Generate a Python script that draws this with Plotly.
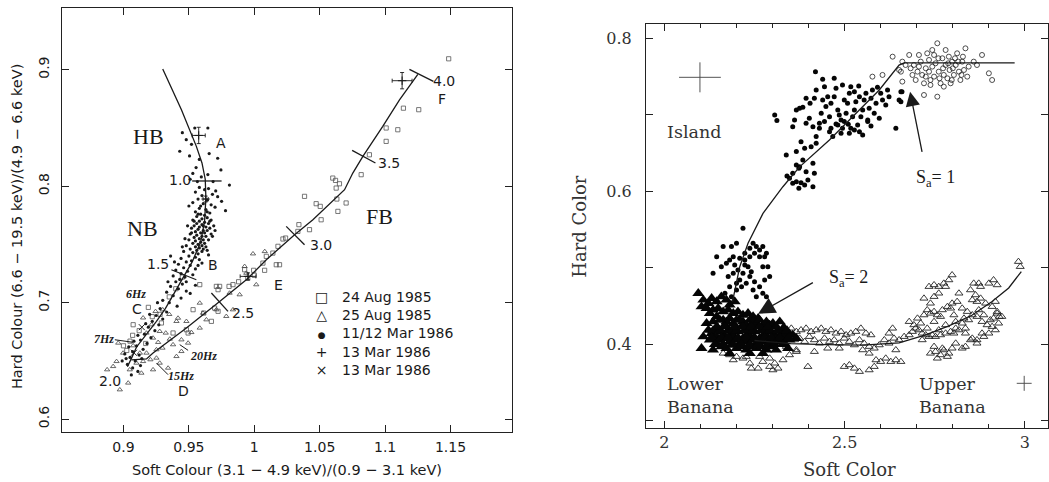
import plotly.graph_objects as go

# ================= LEFT PANEL DATA (soft colour, hard colour) =================
nb_curve = [(0.930, 0.9006), (0.9443, 0.8657), (0.9557, 0.8342), (0.9600, 0.820), (0.9625, 0.806),
            (0.9630, 0.790), (0.9620, 0.770), (0.9590, 0.752), (0.9525, 0.735), (0.9445, 0.719),
            (0.9380, 0.706), (0.9320, 0.695), (0.9252, 0.684), (0.9176, 0.673), (0.9100, 0.662),
            (0.9060, 0.652), (0.9030, 0.645)]
fb_curve = [(0.9061, 0.651), (0.9176, 0.6517), (0.9226, 0.6568), (0.9328, 0.6654), (0.9481, 0.6783),
            (0.9735, 0.7011), (0.9939, 0.7197), (1.0092, 0.7369), (1.0308, 0.7584), (1.0448, 0.7712),
            (1.0601, 0.787), (1.069, 0.797), (1.0753, 0.8113), (1.083, 0.8256), (1.0982, 0.8514),
            (1.111, 0.8742), (1.1250, 0.8960)]

# curve parameter ticks: (x0, y0, x1, y1)
curve_ticks = [(0.9525, 0.8045, 0.9750, 0.8045), (0.9366, 0.7283, 0.9557, 0.7197),
               (0.9672, 0.7083, 0.9799, 0.6926), (1.0244, 0.7655, 1.0384, 0.7498),
               (1.0748, 0.8308, 1.0926, 0.8199), (1.1186, 0.9003, 1.1369, 0.8900)]
# QPO leader lines
hz_leaders = [(0.8934, 0.6682, 0.9074, 0.6660), (0.9430, 0.6640, 0.9494, 0.6591),
              (0.9252, 0.6482, 0.9341, 0.6382)]

mar86_dots = [
    (0.945, 0.846), (0.948, 0.840), (0.952, 0.836), (0.9545, 0.850), (0.9645, 0.850), (0.943, 0.830),
    (0.9505, 0.826), (0.958, 0.823), (0.9655, 0.828), (0.9745, 0.814), (0.9555, 0.816), (0.953, 0.811),
    (0.972, 0.824), (0.981, 0.801), (0.9595, 0.808), (0.9645, 0.810), (0.9685, 0.804), (0.9565, 0.804),
    (0.951, 0.806), (0.9705, 0.796),
    (0.958, 0.799), (0.962, 0.797), (0.965, 0.798), (0.955, 0.795), (0.968, 0.793), (0.972, 0.791),
    (0.960, 0.792), (0.957, 0.789), (0.964, 0.788), (0.975, 0.787), (0.953, 0.786), (0.961, 0.785),
    (0.967, 0.784), (0.970, 0.782), (0.958, 0.781), (0.963, 0.780), (0.950, 0.783), (0.978, 0.779),
    (0.955, 0.778), (0.966, 0.777),
    (0.959, 0.776), (0.962, 0.775), (0.956, 0.774), (0.964, 0.773), (0.960, 0.772), (0.967, 0.771),
    (0.953, 0.771), (0.958, 0.770), (0.962, 0.769), (0.965, 0.768), (0.956, 0.768), (0.960, 0.767),
    (0.969, 0.766), (0.954, 0.766), (0.958, 0.765), (0.963, 0.765), (0.966, 0.764), (0.952, 0.764),
    (0.957, 0.763), (0.961, 0.762), (0.964, 0.762), (0.955, 0.761), (0.959, 0.760), (0.962, 0.760),
    (0.967, 0.759), (0.951, 0.759), (0.956, 0.758), (0.960, 0.757), (0.963, 0.757), (0.954, 0.756),
    (0.958, 0.755), (0.961, 0.754), (0.965, 0.754), (0.950, 0.754), (0.955, 0.753), (0.959, 0.752),
    (0.962, 0.751), (0.953, 0.751), (0.957, 0.750), (0.960, 0.749), (0.948, 0.749), (0.955, 0.748),
    (0.958, 0.747), (0.963, 0.748), (0.951, 0.746), (0.956, 0.745), (0.960, 0.744), (0.946, 0.744),
    (0.953, 0.743), (0.957, 0.742),
    (0.950, 0.740), (0.955, 0.739), (0.944, 0.738), (0.958, 0.737), (0.952, 0.736), (0.948, 0.735),
    (0.960, 0.734), (0.942, 0.733), (0.951, 0.732), (0.946, 0.730), (0.955, 0.729), (0.940, 0.728),
    (0.949, 0.727), (0.944, 0.725), (0.953, 0.724), (0.938, 0.723), (0.947, 0.722), (0.943, 0.720),
    (0.936, 0.740), (0.965, 0.741),
    (0.940, 0.718), (0.945, 0.716), (0.936, 0.714), (0.942, 0.712), (0.948, 0.710), (0.933, 0.709),
    (0.938, 0.706), (0.944, 0.704), (0.930, 0.702), (0.935, 0.700), (0.941, 0.697), (0.928, 0.695),
    (0.933, 0.692), (0.925, 0.689), (0.930, 0.686), (0.922, 0.684), (0.927, 0.681), (0.919, 0.679),
    (0.924, 0.676), (0.916, 0.673), (0.921, 0.670), (0.913, 0.668), (0.918, 0.665), (0.910, 0.663),
    (0.915, 0.660), (0.907, 0.658), (0.912, 0.655), (0.905, 0.653), (0.909, 0.650), (0.903, 0.647),
    (0.907, 0.644), (0.911, 0.641), (0.904, 0.662), (0.908, 0.667), (0.901, 0.656), (0.913, 0.646),
    (0.906, 0.638), (0.899, 0.650), (0.951, 0.708), (0.955, 0.715),
    (0.966, 0.770), (0.952, 0.760), (0.968, 0.757), (0.949, 0.766), (0.964, 0.778), (0.957, 0.776),
    (0.961, 0.766), (0.954, 0.770), (0.970, 0.762), (0.961, 0.746), (0.947, 0.755), (0.964, 0.745),
    (0.945, 0.748), (0.939, 0.735), (0.957, 0.732), (0.934, 0.718), (0.948, 0.718), (0.926, 0.700),
    (0.920, 0.690), (0.917, 0.682), (0.911, 0.672), (0.914, 0.652), (0.902, 0.652), (0.959, 0.783)]

aug24_squares = [
    (1.1486, 0.9094), (1.114, 0.867), (1.1257, 0.8657), (1.1008, 0.85), (1.1097, 0.8485), (1.1008, 0.8385),
    (1.088, 0.827), (1.0817, 0.8099), (1.060, 0.807), (1.0621, 0.805), (1.0651, 0.8021), (1.0626, 0.7984),
    (1.0631, 0.789), (1.0702, 0.7856), (1.0639, 0.7784), (1.0384, 0.7913), (1.0473, 0.785), (1.0504, 0.7827),
    (1.0511, 0.7712), (1.0422, 0.7627), (1.0341, 0.767), (1.0333, 0.7612), (1.0219, 0.7547), (1.0239, 0.7555),
    (1.0181, 0.7484), (1.0142, 0.7426), (1.0092, 0.7398), (1.0066, 0.734), (1.0168, 0.7326), (1.0193, 0.7326),
    (1.0079, 0.7278), (0.9926, 0.7283), (0.9995, 0.7278), (0.9837, 0.7155), (0.9807, 0.714), (0.9735, 0.714),
    (0.971, 0.714), (0.9723, 0.7112), (0.9583, 0.7155), (0.9532, 0.694), (0.9723, 0.6926), (0.9697, 0.6954),
    (0.9613, 0.6911), (0.9672, 0.684), (0.9481, 0.6768), (0.9494, 0.674), (0.9379, 0.674), (0.929, 0.6826),
    (0.9074, 0.6811), (0.919, 0.696), (0.922, 0.688), (0.907, 0.672), (0.900, 0.663), (0.935, 0.705),
    (0.940, 0.712), (0.945, 0.722), (0.928, 0.690), (0.912, 0.676), (0.917, 0.665), (0.905, 0.667),
    (0.9025, 0.659), (0.995, 0.721), (1.000, 0.7235), (0.988, 0.718)]

aug25_triangles = [
    (0.999, 0.742), (0.9926, 0.7312), (0.9888, 0.7069), (0.9583, 0.6997), (0.9405, 0.684), (0.9417, 0.6868),
    (0.9481, 0.684), (0.9519, 0.6745), (0.9323, 0.674), (0.9226, 0.6697), (0.9494, 0.6654), (0.9298, 0.6611),
    (0.9252, 0.6525), (0.9277, 0.6482), (0.9226, 0.6425), (0.9341, 0.6439), (0.9125, 0.6568), (0.9099, 0.6482),
    (0.9048, 0.6425), (0.8972, 0.6253), (0.9036, 0.6311), (0.8875, 0.6425), (0.8921, 0.6453), (0.8947, 0.6496),
    (0.8997, 0.6568), (0.9176, 0.6568), (0.9206, 0.6511), (0.9137, 0.6396), (0.9379, 0.664), (0.9443, 0.6682),
    (0.9583, 0.6783), (0.9634, 0.6854), (0.9786, 0.6883), (0.9837, 0.694), (0.971, 0.694), (0.9608, 0.6911),
    (0.9939, 0.7254), (1.0015, 0.7155), (0.9811, 0.7083), (0.9265, 0.666), (0.9354, 0.6688), (0.9277, 0.6754),
    (0.9214, 0.6811), (0.9074, 0.6631), (0.896, 0.6654), (0.915, 0.6496), (0.9252, 0.6597), (0.9443, 0.6582),
    (0.9405, 0.6539), (0.9176, 0.674), (0.930, 0.694), (0.935, 0.690), (0.9245, 0.6925), (0.915, 0.687),
    (1.008, 0.744)]

# 13 Mar 1986 (+) with error bars: x, y, err_x, err_y
mar13_plus = [(0.9575, 0.8436, 0.0050, 0.0070), (1.1130, 0.8906, 0.0076, 0.0070),
              (0.9952, 0.7226, 0.0060, 0.0030), (0.9628, 0.7890, 0.0020, 0.0025)]
mar13_cross = [(0.914, 0.679), (0.908, 0.657)]

left_labels = [("A", 0.9748, 0.837), ("1.0", 0.943, 0.8056), ("1.5", 0.9265, 0.7332), ("B", 0.9684, 0.732),
               ("C", 0.9104, 0.6946), ("D", 0.9455, 0.6245), ("2.0", 0.8896, 0.6325), ("E", 1.0188, 0.7149),
               ("2.5", 0.9913, 0.6911), ("3.0", 1.0511, 0.7498), ("3.5", 1.1033, 0.8199),
               ("4.0", 1.1453, 0.890), ("F", 1.1435, 0.8748)]
branch_labels = [("HB", 0.9188, 0.8428), ("NB", 0.9145, 0.7641), ("FB", 1.0957, 0.7741)]
hz_labels = [("6Hz", 0.9094, 0.7074), ("7Hz", 0.8850, 0.6688), ("20Hz", 0.9613, 0.6545), ("15Hz", 0.9443, 0.6368)]
legend_names = ["24 Aug 1985", "25 Aug 1985", "11/12 Mar 1986", "13 Mar 1986", "13 Mar 1986"]
legend_glyphs = ["□", "△", "<span style='font-size:9px'>●</span>", "+", "×"]

# ================= RIGHT PANEL DATA (soft color, hard color) =================
island_curve = [(2.189, 0.4557), (2.209, 0.5014), (2.232, 0.532), (2.2735, 0.5712), (2.3287, 0.606),
                (2.375, 0.632), (2.4577, 0.667), (2.5315, 0.702), (2.596, 0.7324), (2.651, 0.765),
                (2.665, 0.768), (2.9715, 0.768)]
banana_curve = [(2.25, 0.405), (2.35, 0.401), (2.45, 0.3995), (2.55, 0.399), (2.651, 0.402),
                (2.7249, 0.4122), (2.789, 0.424), (2.853, 0.438), (2.908, 0.4557), (2.955, 0.4736),
                (2.990, 0.495)]

island_dots = [
    (2.306, 0.6998), (2.312, 0.6924), (2.338, 0.6475), (2.340, 0.620), (2.347, 0.617), (2.356, 0.6105),
    (2.366, 0.6126), (2.379, 0.6113), (2.389, 0.6083), (2.366, 0.6344), (2.375, 0.6322), (2.412, 0.6366),
    (2.416, 0.6235), (2.393, 0.6257), (2.384, 0.641), (2.373, 0.6301), (2.356, 0.6845), (2.361, 0.6932),
    (2.366, 0.7063), (2.375, 0.7085), (2.384, 0.7098), (2.393, 0.6889), (2.402, 0.6954), (2.412, 0.6845),
    (2.416, 0.7216), (2.421, 0.6715), (2.430, 0.6889), (2.435, 0.702), (2.439, 0.7194), (2.444, 0.7368),
    (2.448, 0.7107), (2.458, 0.6976), (2.462, 0.6824), (2.467, 0.6715), (2.471, 0.7237), (2.476, 0.7346),
    (2.481, 0.7063), (2.490, 0.6932), (2.494, 0.6824), (2.499, 0.7194), (2.504, 0.702), (2.508, 0.715),
    (2.513, 0.7281), (2.517, 0.7368), (2.522, 0.6976), (2.527, 0.7063), (2.531, 0.7172), (2.536, 0.6867),
    (2.541, 0.7237), (2.545, 0.6976), (2.550, 0.7063), (2.554, 0.7194), (2.559, 0.7281), (2.564, 0.6932),
    (2.568, 0.7085), (2.573, 0.7216), (2.577, 0.7325), (2.582, 0.702), (2.587, 0.715), (2.596, 0.6954),
    (2.600, 0.7281), (2.605, 0.7194), (2.614, 0.7129), (2.619, 0.7325), (2.623, 0.7237), (2.642, 0.6824),
    (2.651, 0.7194), (2.656, 0.7303), (2.421, 0.7325), (2.419, 0.7564), (2.404, 0.715), (2.393, 0.7216),
    (2.439, 0.7464), (2.471, 0.7477), (2.494, 0.739), (2.527, 0.7303), (2.453, 0.7237), (2.462, 0.715),
    (2.485, 0.6998), (2.444, 0.6911), (2.490, 0.6758), (2.513, 0.6758), (2.541, 0.678), (2.550, 0.6736),
    (2.564, 0.6911), (2.527, 0.6802), (2.476, 0.688), (2.458, 0.678), (2.430, 0.6824), (2.421, 0.6627),
    (2.407, 0.6584), (2.389, 0.6562), (2.379, 0.6649), (2.366, 0.6519), (2.356, 0.6235), (2.398, 0.6148),
    (2.412, 0.6061), (2.373, 0.6039), (2.573, 0.6854), (2.591, 0.7359), (2.539, 0.7377), (2.517, 0.6824),
    (2.510, 0.6876), (2.499, 0.6911), (2.481, 0.6867), (2.659, 0.730), (2.656, 0.717),
    (2.218, 0.5516), (2.200, 0.532), (2.186, 0.5277), (2.163, 0.5277), (2.145, 0.5146), (2.135, 0.4928),
    (2.158, 0.5015), (2.172, 0.5059), (2.181, 0.5102), (2.195, 0.5037), (2.209, 0.5124), (2.223, 0.519),
    (2.237, 0.5255), (2.246, 0.532), (2.255, 0.5277), (2.264, 0.5233), (2.273, 0.5277), (2.278, 0.5146),
    (2.283, 0.519), (2.264, 0.5146), (2.250, 0.519), (2.237, 0.5146), (2.223, 0.5037), (2.204, 0.4972),
    (2.191, 0.4928), (2.177, 0.4885), (2.218, 0.4928), (2.237, 0.4885), (2.250, 0.4819), (2.273, 0.5015),
    (2.287, 0.5015), (2.292, 0.4885), (2.278, 0.4841), (2.264, 0.4754), (2.246, 0.471), (2.227, 0.4797),
    (2.214, 0.4754), (2.200, 0.4797), (2.181, 0.4754), (2.168, 0.4667), (2.186, 0.4623), (2.200, 0.471),
    (2.232, 0.5015), (2.241, 0.495), (2.223, 0.5102), (2.191, 0.5146), (2.209, 0.4841), (2.273, 0.4667),
    (2.283, 0.4623), (2.255, 0.4623)]

island_open = [
    (2.633, 0.776), (2.660, 0.7695), (2.656, 0.7564), (2.660, 0.7434), (2.679, 0.7782), (2.683, 0.7608),
    (2.688, 0.7521), (2.697, 0.7455), (2.702, 0.7564), (2.706, 0.7782), (2.711, 0.7695), (2.715, 0.7521),
    (2.720, 0.7259), (2.725, 0.7608), (2.729, 0.7804), (2.734, 0.7717), (2.738, 0.7455), (2.743, 0.763),
    (2.748, 0.7782), (2.752, 0.7673), (2.757, 0.7237), (2.757, 0.7935), (2.761, 0.7564), (2.766, 0.7412),
    (2.771, 0.7739), (2.775, 0.7521), (2.780, 0.7847), (2.780, 0.7651), (2.785, 0.7477), (2.789, 0.776),
    (2.791, 0.7586), (2.794, 0.7412), (2.798, 0.7695), (2.803, 0.7521), (2.808, 0.7651), (2.812, 0.7804),
    (2.817, 0.7564), (2.821, 0.7455), (2.826, 0.7695), (2.831, 0.7586), (2.835, 0.7869), (2.840, 0.7499),
    (2.844, 0.763), (2.858, 0.7695), (2.867, 0.7651), (2.881, 0.7782), (2.900, 0.7543), (2.909, 0.7455),
    (2.605, 0.7521), (2.577, 0.7499), (2.651, 0.7586), (2.669, 0.7651), (2.692, 0.7651), (2.706, 0.763),
    (2.720, 0.7412), (2.734, 0.7564), (2.748, 0.7499), (2.760, 0.7739), (2.773, 0.7608), (2.787, 0.7673),
    (2.800, 0.7608), (2.815, 0.7695), (2.824, 0.7521), (2.797, 0.7455), (2.763, 0.7477), (2.738, 0.739),
    (2.725, 0.7499), (2.775, 0.7368), (2.806, 0.7739), (2.828, 0.776), (2.743, 0.7847)]

banana_filled = [
    (2.094, 0.4667), (2.108, 0.458), (2.122, 0.4536), (2.131, 0.4601), (2.145, 0.4558), (2.158, 0.4623),
    (2.172, 0.458), (2.181, 0.4514), (2.195, 0.4558), (2.117, 0.4471), (2.135, 0.4449), (2.149, 0.4471),
    (2.163, 0.4427), (2.177, 0.4449), (2.191, 0.4405), (2.204, 0.4427), (2.218, 0.4383), (2.232, 0.4405),
    (2.246, 0.4362), (2.260, 0.434), (2.103, 0.4492), (2.126, 0.4405), (2.145, 0.4362), (2.163, 0.4318),
    (2.181, 0.434), (2.200, 0.4318), (2.218, 0.4296), (2.237, 0.4318), (2.255, 0.4275), (2.273, 0.4253),
    (2.292, 0.4253), (2.310, 0.4231), (2.329, 0.4209),
    (2.131, 0.4144), (2.140, 0.4187), (2.149, 0.4209), (2.158, 0.4166), (2.168, 0.4253), (2.177, 0.4187),
    (2.186, 0.4144), (2.195, 0.4209), (2.204, 0.4166), (2.214, 0.4231), (2.223, 0.4187), (2.232, 0.4144),
    (2.241, 0.4209), (2.250, 0.4166), (2.260, 0.4231), (2.269, 0.4187), (2.278, 0.4144), (2.287, 0.4209),
    (2.296, 0.4166), (2.306, 0.4122), (2.315, 0.4187), (2.324, 0.4144), (2.333, 0.4209),
    (2.145, 0.41), (2.154, 0.4057), (2.163, 0.4122), (2.172, 0.4078), (2.181, 0.4035), (2.191, 0.41),
    (2.200, 0.4057), (2.209, 0.4013), (2.218, 0.4078), (2.227, 0.4035), (2.237, 0.41), (2.246, 0.4057),
    (2.255, 0.4013), (2.264, 0.4078), (2.273, 0.4035), (2.283, 0.41), (2.292, 0.4057), (2.301, 0.4013),
    (2.310, 0.4078), (2.320, 0.4035), (2.329, 0.41),
    (2.158, 0.397), (2.172, 0.3948), (2.186, 0.3991), (2.200, 0.3948), (2.214, 0.397), (2.227, 0.3926),
    (2.241, 0.397), (2.255, 0.3948), (2.269, 0.397), (2.283, 0.3926), (2.296, 0.397),
    (2.172, 0.4296), (2.191, 0.4275), (2.209, 0.4318), (2.227, 0.4253), (2.246, 0.4296), (2.264, 0.4318),
    (2.283, 0.4296), (2.301, 0.4275), (2.320, 0.4296), (2.108, 0.41), (2.117, 0.4275), (2.103, 0.3948),
    (2.135, 0.3926), (2.181, 0.3882), (2.237, 0.3882), (2.273, 0.3882), (2.310, 0.3926), (2.338, 0.4144),
    (2.347, 0.4057), (2.356, 0.4122), (2.366, 0.4078), (2.135, 0.4296), (2.154, 0.4318), (2.145, 0.4013),
    (2.126, 0.4057), (2.122, 0.4187), (2.333, 0.4013), (2.343, 0.3948),
    (2.135, 0.418), (2.154, 0.418), (2.181, 0.418), (2.200, 0.418), (2.223, 0.418), (2.246, 0.418),
    (2.269, 0.418), (2.292, 0.418), (2.315, 0.418), (2.340, 0.418),
    (2.131, 0.409), (2.158, 0.409), (2.177, 0.409), (2.204, 0.409), (2.227, 0.409), (2.250, 0.409),
    (2.278, 0.409), (2.296, 0.409), (2.320, 0.409), (2.345, 0.409),
    (2.140, 0.400), (2.163, 0.400), (2.191, 0.400), (2.214, 0.400), (2.237, 0.400), (2.260, 0.400),
    (2.287, 0.400), (2.306, 0.400), (2.329, 0.400),
    (2.145, 0.423), (2.168, 0.423), (2.195, 0.423), (2.218, 0.423), (2.241, 0.423), (2.264, 0.423),
    (2.287, 0.423), (2.310, 0.423)]

banana_open = [
    (2.163, 0.3882), (2.181, 0.3861), (2.200, 0.3839), (2.218, 0.3817), (2.237, 0.3752), (2.241, 0.3686),
    (2.260, 0.3686), (2.292, 0.3708), (2.301, 0.3664), (2.315, 0.3686), (2.306, 0.3752), (2.273, 0.3773),
    (2.329, 0.3795), (2.347, 0.3861), (2.366, 0.3904), (2.292, 0.3817), (2.264, 0.3839), (2.227, 0.3839),
    (2.191, 0.3795),
    (2.338, 0.4187), (2.352, 0.4209), (2.366, 0.4166), (2.379, 0.4187), (2.393, 0.4209), (2.407, 0.4166),
    (2.421, 0.4187), (2.435, 0.4209), (2.448, 0.4166), (2.462, 0.4187), (2.476, 0.4144), (2.490, 0.4166),
    (2.504, 0.4122), (2.517, 0.4144), (2.531, 0.4166), (2.545, 0.4209), (2.559, 0.4144), (2.573, 0.4122),
    (2.347, 0.41), (2.361, 0.4057), (2.375, 0.4078), (2.389, 0.4035), (2.402, 0.41), (2.416, 0.4057),
    (2.430, 0.4013), (2.444, 0.4078), (2.458, 0.4035), (2.471, 0.4057), (2.485, 0.4013), (2.499, 0.4078),
    (2.513, 0.4035), (2.527, 0.3991), (2.541, 0.4057), (2.554, 0.4013), (2.568, 0.397), (2.582, 0.3948),
    (2.596, 0.3991), (2.610, 0.4057), (2.623, 0.4144), (2.633, 0.4209), (2.637, 0.4078), (2.623, 0.4013),
    (2.642, 0.3926), (2.398, 0.3708), (2.499, 0.3708), (2.513, 0.373), (2.527, 0.3686), (2.541, 0.3643),
    (2.568, 0.3664), (2.582, 0.3708), (2.587, 0.3795), (2.600, 0.3773), (2.614, 0.3817), (2.628, 0.3773),
    (2.642, 0.3795), (2.656, 0.3773), (2.568, 0.3882), (2.550, 0.3926), (2.416, 0.3904), (2.366, 0.3926),
    (2.338, 0.397), (2.453, 0.3948), (2.485, 0.3948),
    (2.651, 0.4057), (2.665, 0.41), (2.679, 0.4122), (2.688, 0.4166), (2.697, 0.4209), (2.706, 0.4187),
    (2.715, 0.4144), (2.725, 0.4122), (2.734, 0.41), (2.743, 0.4122), (2.752, 0.41), (2.766, 0.4122),
    (2.780, 0.4144), (2.794, 0.4166), (2.808, 0.4209), (2.679, 0.4296), (2.692, 0.4253), (2.711, 0.4275),
    (2.702, 0.434), (2.720, 0.4383), (2.729, 0.4449), (2.738, 0.4405), (2.748, 0.4427), (2.757, 0.4383),
    (2.771, 0.4449), (2.785, 0.4492), (2.798, 0.4536), (2.812, 0.4558), (2.826, 0.4471), (2.840, 0.4427),
    (2.854, 0.4383), (2.867, 0.4362), (2.881, 0.4296), (2.895, 0.4253), (2.909, 0.4231), (2.918, 0.4187),
    (2.927, 0.4275), (2.936, 0.4362), (2.923, 0.4405), (2.909, 0.4492), (2.891, 0.4536), (2.877, 0.4601),
    (2.863, 0.4645), (2.849, 0.471), (2.858, 0.4797), (2.877, 0.4754), (2.900, 0.4797), (2.913, 0.4841),
    (2.923, 0.4427), (2.904, 0.4318), (2.886, 0.4383), (2.872, 0.4449), (2.844, 0.4318), (2.826, 0.4275),
    (2.817, 0.4187), (2.835, 0.4144), (2.854, 0.4078), (2.867, 0.4057), (2.881, 0.4144), (2.738, 0.4536),
    (2.748, 0.4623), (2.761, 0.4754), (2.775, 0.4797), (2.789, 0.4841), (2.798, 0.4906), (2.780, 0.4754),
    (2.761, 0.4667), (2.748, 0.4776), (2.734, 0.4754), (2.720, 0.4601), (2.794, 0.4471), (2.803, 0.4383),
    (2.766, 0.4362), (2.748, 0.4296), (2.729, 0.4209), (2.715, 0.4057), (2.738, 0.3882), (2.752, 0.3904),
    (2.766, 0.3861), (2.775, 0.3926), (2.789, 0.3882), (2.798, 0.3948), (2.785, 0.3839), (2.757, 0.3817),
    (2.771, 0.3948), (2.748, 0.397), (2.849, 0.4057), (2.867, 0.4013), (2.886, 0.41), (2.900, 0.4144),
    (2.982, 0.5081), (2.987, 0.5015), (2.835, 0.397), (2.826, 0.3948), (2.808, 0.4013), (2.761, 0.4187),
    (2.780, 0.4253), (2.808, 0.4296), (2.831, 0.434), (2.854, 0.458), (2.867, 0.4558), (2.918, 0.4558),
    (2.929, 0.4362), (2.913, 0.434), (2.923, 0.4776), (2.817, 0.4667), (2.872, 0.4797), (2.835, 0.4209),
    (2.803, 0.4144)]

# representative error crosses: x, y, err_x, err_y
right_err = [(2.0986, 0.749, 0.058, 0.0196), (2.998, 0.349, 0.0207, 0.0098)]

# ================= FIGURE =================
SANS = "DejaVu Sans"
SERIF = "Liberation Serif"
RSERIF = "DejaVu Serif"
INK = "#1a1a1a"


def xs(pts):
    return [p[0] for p in pts]


def ys(pts):
    return [p[1] for p in pts]


def segs(list4):
    sx, sy = [], []
    for x0, y0, x1, y1 in list4:
        sx += [x0, x1, None]
        sy += [y0, y1, None]
    return sx, sy


fig = go.Figure()

# ---- left panel ----
fig.add_trace(go.Scatter(x=xs(aug24_squares), y=ys(aug24_squares), mode="markers", xaxis="x", yaxis="y",
                         marker=dict(symbol="square-open", size=4.2, color="#555", line=dict(width=0.8))))
fig.add_trace(go.Scatter(x=xs(aug25_triangles), y=ys(aug25_triangles), mode="markers", xaxis="x", yaxis="y",
                         marker=dict(symbol="triangle-up-open", size=4.6, color="#444", line=dict(width=0.8))))
fig.add_trace(go.Scatter(x=xs(mar86_dots), y=ys(mar86_dots), mode="markers", xaxis="x", yaxis="y",
                         marker=dict(symbol="circle", size=3.2, color=INK)))
fig.add_trace(go.Scatter(x=xs(nb_curve), y=ys(nb_curve), mode="lines", xaxis="x", yaxis="y",
                         line=dict(color=INK, width=1.3)))
fig.add_trace(go.Scatter(x=xs(fb_curve), y=ys(fb_curve), mode="lines", xaxis="x", yaxis="y",
                         line=dict(color=INK, width=1.3)))
tx, ty = segs(curve_ticks)
fig.add_trace(go.Scatter(x=tx, y=ty, mode="lines", xaxis="x", yaxis="y", line=dict(color=INK, width=1.3)))
hx, hy = segs(hz_leaders)
fig.add_trace(go.Scatter(x=hx, y=hy, mode="lines", xaxis="x", yaxis="y", line=dict(color=INK, width=1)))
fig.add_trace(go.Scatter(x=[p[0] for p in mar13_plus], y=[p[1] for p in mar13_plus], mode="markers",
                         xaxis="x", yaxis="y",
                         marker=dict(symbol="cross-thin", size=6, color=INK, line=dict(width=1, color=INK)),
                         error_x=dict(type="data", array=[p[2] for p in mar13_plus], color=INK, thickness=0.9, width=2),
                         error_y=dict(type="data", array=[p[3] for p in mar13_plus], color=INK, thickness=0.9, width=2)))
fig.add_trace(go.Scatter(x=xs(mar13_cross), y=ys(mar13_cross), mode="markers", xaxis="x", yaxis="y",
                         marker=dict(symbol="x-thin", size=6, color=INK, line=dict(width=1, color=INK))))

# ---- right panel ----
fig.add_trace(go.Scatter(x=xs(banana_open), y=ys(banana_open), mode="markers", xaxis="x2", yaxis="y2",
                         marker=dict(symbol="triangle-up-open", size=7, color="#222", line=dict(width=0.9))))
fig.add_trace(go.Scatter(x=xs(banana_filled), y=ys(banana_filled), mode="markers", xaxis="x2", yaxis="y2",
                         marker=dict(symbol="triangle-up", size=10.5, color="#050505")))
fig.add_trace(go.Scatter(x=xs(island_open), y=ys(island_open), mode="markers", xaxis="x2", yaxis="y2",
                         marker=dict(symbol="circle-open", size=5, color="#222", line=dict(width=0.8))))
fig.add_trace(go.Scatter(x=xs(island_dots), y=ys(island_dots), mode="markers", xaxis="x2", yaxis="y2",
                         marker=dict(symbol="circle", size=5, color="#050505")))
fig.add_trace(go.Scatter(x=xs(island_curve), y=ys(island_curve), mode="lines", xaxis="x2", yaxis="y2",
                         line=dict(color=INK, width=1.3)))
fig.add_trace(go.Scatter(x=xs(banana_curve), y=ys(banana_curve), mode="lines", xaxis="x2", yaxis="y2",
                         line=dict(color=INK, width=1.3)))
fig.add_trace(go.Scatter(x=[p[0] for p in right_err], y=[p[1] for p in right_err], mode="markers",
                         xaxis="x2", yaxis="y2", marker=dict(size=1, color="#555"),
                         error_x=dict(type="data", array=[p[2] for p in right_err], color="#555", thickness=1, width=0),
                         error_y=dict(type="data", array=[p[3] for p in right_err], color="#555", thickness=1, width=0)))

ann = []
for t, x, y in left_labels:
    ann.append(dict(text=t, x=x, y=y, xref="x", yref="y", showarrow=False,
                    xanchor="center", yanchor="middle", font=dict(family=SANS, size=14, color=INK)))
for t, x, y in branch_labels:
    ann.append(dict(text=t, x=x, y=y, xref="x", yref="y", showarrow=False,
                    xanchor="center", yanchor="middle", font=dict(family=SERIF, size=22, color=INK)))
for t, x, y in hz_labels:
    ann.append(dict(text="<b><i>" + t + "</i></b>", x=x, y=y, xref="x", yref="y", showarrow=False,
                    xanchor="center", yanchor="middle", font=dict(family=SERIF, size=12, color=INK)))
ann.append(dict(text="<br>".join(legend_glyphs), x=0.3067, y=0.3077, xref="paper", yref="paper",
                xanchor="center", yanchor="middle", showarrow=False, align="center",
                font=dict(family=SANS, size=14, color=INK)))
ann.append(dict(text="<br>".join(legend_names), x=0.3241, y=0.3077, xref="paper", yref="paper",
                xanchor="left", yanchor="middle", showarrow=False, align="left",
                font=dict(family=SANS, size=14, color=INK)))
ann.append(dict(text="Hard Colour (6.6 − 19.5 keV)/(4.9 − 6.6 keV)", x=0.0162, y=0.531, xref="paper",
                yref="paper", xanchor="center", yanchor="middle", textangle=-90, showarrow=False,
                font=dict(family=SANS, size=14.5, color=INK)))
ann.append(dict(text="Soft Colour (3.1 − 4.9 keV)/(0.9 − 3.1 keV)", x=0.2736, y=0.0249, xref="paper",
                yref="paper", xanchor="center", yanchor="middle", showarrow=False,
                font=dict(family=SANS, size=14.5, color=INK)))

# right panel texts
ann.append(dict(text="Island", x=2.002, y=0.678, xref="x2", yref="y2", xanchor="left", yanchor="middle",
                showarrow=False, font=dict(family=RSERIF, size=17.5, color="#333")))
ann.append(dict(text="Lower<br>Banana", x=2.002, y=0.3337, xref="x2", yref="y2", xanchor="left",
                yanchor="middle", align="left", showarrow=False, font=dict(family=RSERIF, size=17.5, color="#333")))
ann.append(dict(text="Upper<br>Banana", x=2.70, y=0.3337, xref="x2", yref="y2", xanchor="left",
                yanchor="middle", align="left", showarrow=False, font=dict(family=RSERIF, size=17.5, color="#333")))
ann.append(dict(text="S<sub>a</sub>= 2", x=2.451, y=0.486, xref="x2", yref="y2", xanchor="left",
                yanchor="middle", showarrow=False, font=dict(family=SERIF, size=18, color=INK)))
ann.append(dict(text="S<sub>a</sub>= 1", x=2.6925, y=0.617, xref="x2", yref="y2", xanchor="left",
                yanchor="middle", showarrow=False, font=dict(family=SERIF, size=18, color=INK)))
ann.append(dict(text="", x=2.26, y=0.440, ax=2.416, ay=0.4818, xref="x2", yref="y2", axref="x2",
                ayref="y2", showarrow=True, arrowhead=2, arrowsize=2.6, arrowwidth=1.3, arrowcolor=INK))
ann.append(dict(text="", x=2.6815, y=0.730, ax=2.7155, ay=0.6497, xref="x2", yref="y2", axref="x2",
                ayref="y2", showarrow=True, arrowhead=2, arrowsize=2.2, arrowwidth=1.3, arrowcolor=INK))
ann.append(dict(text="Hard Color", x=0.5529, y=0.5297, xref="paper", yref="paper", textangle=-90,
                xanchor="center", yanchor="middle", showarrow=False, font=dict(family=RSERIF, size=18, color="#333")))
ann.append(dict(text="Soft Color", x=0.8096, y=0.0249, xref="paper", yref="paper", showarrow=False,
                xanchor="center", yanchor="middle", font=dict(family=RSERIF, size=18, color="#333")))

axis_common = dict(showgrid=False, zeroline=False, showline=True, linecolor="#222", linewidth=1,
                   ticks="inside", tickcolor="#222", mirror="ticks")

fig.update_layout(
    width=1049, height=482, margin=dict(l=0, r=0, t=0, b=0),
    paper_bgcolor="white", plot_bgcolor="white", showlegend=False,
    annotations=ann,
    xaxis=dict(domain=[62 / 1049, 512 / 1049], range=[0.853, 1.197], anchor="y",
               tickvals=[0.9, 0.95, 1, 1.05, 1.1, 1.15], ticktext=["0.9", "0.95", "1", "1.05", "1.1", "1.15"],
               ticklen=7, ticklabelstandoff=2, tickfont=dict(family=SANS, size=14, color=INK), **axis_common),
    yaxis=dict(domain=[1 - 432 / 482, 1 - 8 / 482], range=[0.589, 0.953], anchor="x",
               tickvals=[0.6, 0.7, 0.8, 0.9], ticktext=["0.6", "0.7", "0.8", "0.9"], tickangle=-90,
               ticklen=7, ticklabelstandoff=6, tickfont=dict(family=SANS, size=14, color=INK), **axis_common),
    xaxis2=dict(domain=[646 / 1049, 1048 / 1049], range=[1.949, 3.064], anchor="y2",
                tickvals=[2, 2.5, 3], ticktext=["2", "2.5", "3"], ticklen=7,
                minor=dict(tickvals=[2.1, 2.2, 2.3, 2.4, 2.6, 2.7, 2.8, 2.9, 3.0], ticks="inside", ticklen=4,
                           tickcolor="#222"),
                tickfont=dict(family=RSERIF, size=16, color="#333"), **axis_common),
    yaxis2=dict(domain=[1 - 428 / 482, 1 - 24 / 482], range=[0.2906, 0.8187], anchor="x2",
                tickvals=[0.4, 0.6, 0.8], ticktext=["0.4", "0.6", "0.8"], ticklen=7, ticklabelstandoff=10,
                minor=dict(tickvals=[0.3, 0.5, 0.7], ticks="inside", ticklen=7, tickcolor="#222"),
                tickfont=dict(family=RSERIF, size=16, color="#333"), **axis_common),
)

fig.write_html("out.html")
